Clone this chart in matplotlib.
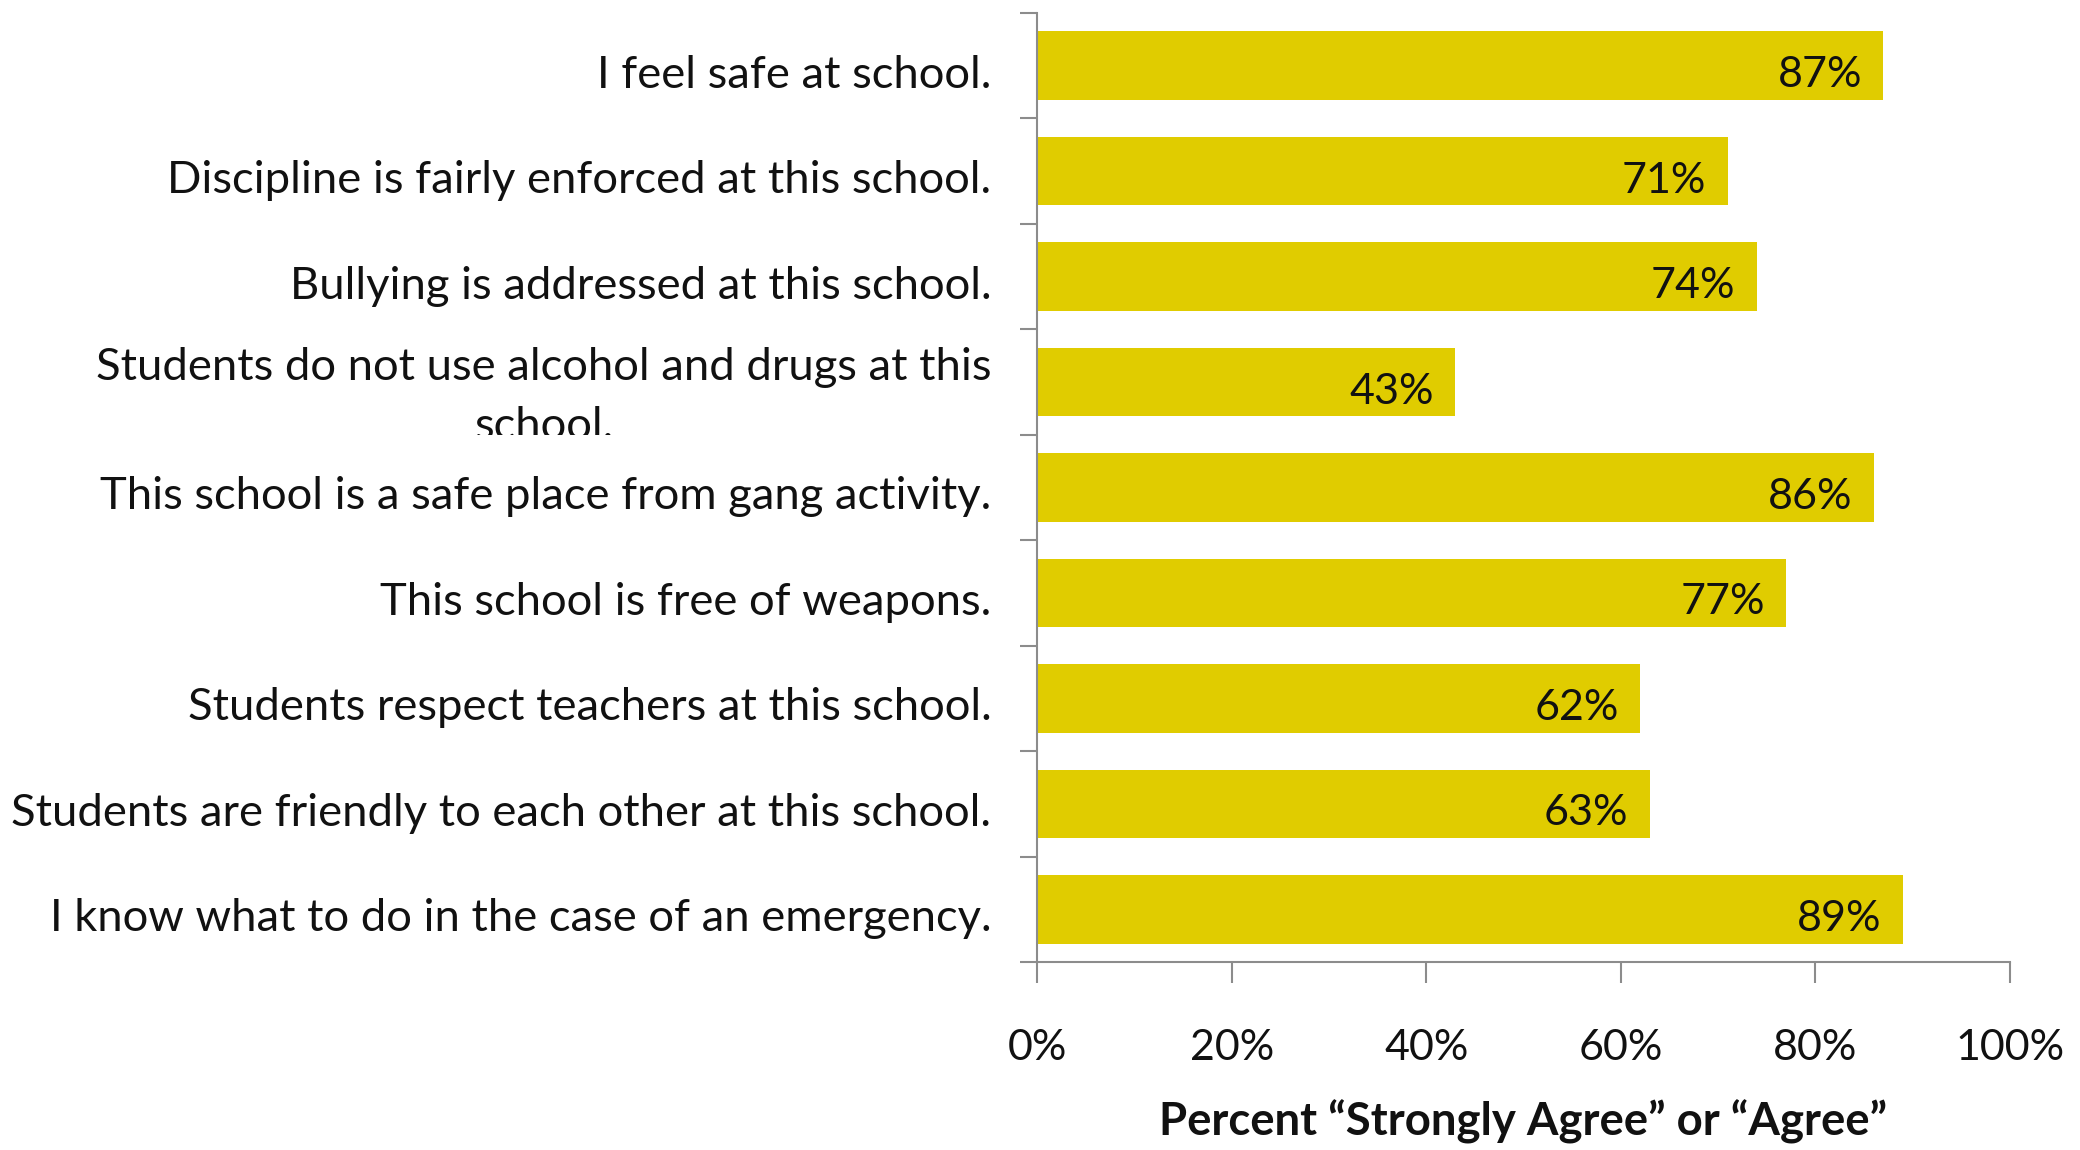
import matplotlib

matplotlib.use("Agg")
import matplotlib.pyplot as plt
from matplotlib.ticker import FixedLocator, PercentFormatter
from matplotlib.transforms import Bbox, TransformedBbox, blended_transform_factory

plt.rcParams["font.family"] = ["Lato", "DejaVu Sans"]

# survey items, top to bottom
items = [
    "I feel safe at school.",
    "Discipline is fairly enforced at this school.",
    "Bullying is addressed at this school.",
    "Students do not use alcohol and drugs at this\nschool.",
    "This school is a safe place from gang activity.",
    "This school is free of weapons.",
    "Students respect teachers at this school.",
    "Students are friendly to each other at this school.",
    "I know what to do in the case of an emergency.",
]
pct_agree = [87, 71, 74, 43, 86, 77, 62, 63, 89]
x_ticks = [0, 20, 40, 60, 80, 100]

BAR = "#E0CC00"
AXC = "#8C8C8C"
FS = 31
FS_CAT = 32.7

fig = plt.figure(figsize=(20.8, 11.5), dpi=100)
ax = fig.add_axes([0.4986, 0.1635, 0.4677, 0.8252])

pos = list(range(len(items)))
ax.barh(pos, pct_agree, height=0.65, color=BAR)
ax.set_ylim(len(items) - 0.5, -0.5)
ax.set_xlim(0, 100)

# value labels inside bar ends
for y, v in zip(pos, pct_agree):
    ax.text(v - 2.2, y + 0.09, f"{v}%", ha="right", va="center", fontsize=FS, color="#111111")

# category labels (drawn as text so the wrapped one can be clipped like the original)
trans = blended_transform_factory(fig.transFigure, ax.transData)
for y, lab in zip(pos, items):
    multi = "\n" in lab
    t = ax.text(-0.047, y + (0.14 if multi else 0.09), lab, transform=ax.get_yaxis_transform(),
                ha="right", va="center", multialignment="center", fontsize=FS_CAT,
                color="#111111", linespacing=1.55, clip_on=multi)
    if multi:
        t.set_clip_box(TransformedBbox(Bbox([[0, y - 0.5], [1, y + 0.5]]), trans))

ax.set_yticks([])
ax.yaxis.set_minor_locator(FixedLocator([p - 0.5 for p in pos] + [len(items) - 0.5]))
ax.tick_params(axis="y", which="minor", length=12, width=1.5, color=AXC, direction="out")

ax.set_xticks(x_ticks)
ax.xaxis.set_major_formatter(PercentFormatter(decimals=0))
ax.tick_params(axis="x", length=15, width=1.5, color=AXC, pad=33, labelsize=FS,
               labelcolor="#111111")

for s in ["top", "right"]:
    ax.spines[s].set_visible(False)
for s in ["left", "bottom"]:
    ax.spines[s].set_color(AXC)
    ax.spines[s].set_linewidth(1.5)

ax.set_xlabel("Percent \u201cStrongly Agree\u201d or \u201cAgree\u201d", fontsize=32.8,
              fontweight="bold", color="#111111", labelpad=24)

fig.savefig("out.png", dpi=100)
